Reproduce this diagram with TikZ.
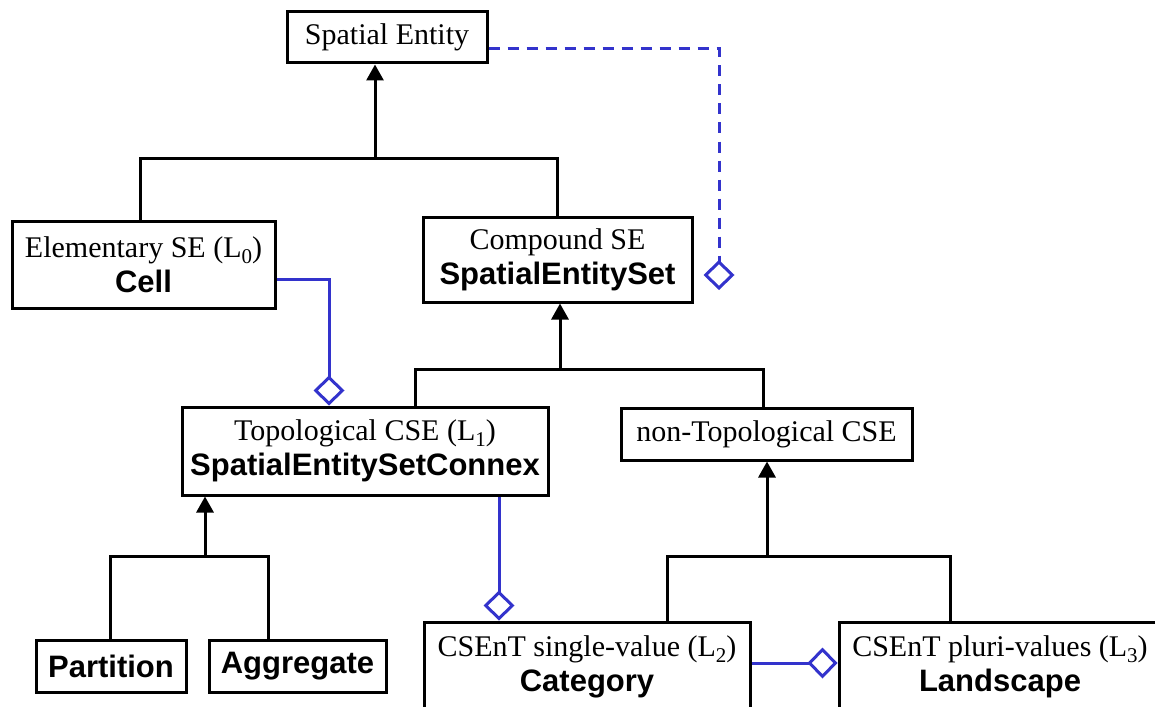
\documentclass[tikz,border=0pt]{standalone}
\usepackage{fontspec}
\setmainfont{Liberation Serif}
\newfontfamily\lsans{Liberation Sans}
\usetikzlibrary{arrows.meta}
\definecolor{aggblue}{RGB}{51,51,204}
\newcommand{\cls}[1]{{\lsans\bfseries\fontsize{15.5}{17.5}\selectfont #1}}
\newcommand{\lsub}[1]{\raisebox{-3pt}{\fontsize{10.5}{10.5}\selectfont #1}}
\begin{document}
\begin{tikzpicture}[x=0.5pt,y=-0.5pt,
  box/.style={draw,line width=1.5pt,inner sep=0pt,align=center,font=\fontsize{15}{17.5}\selectfont},
  gen/.style={line width=1.5pt},
  genarrow/.style={line width=1.5pt,-{Triangle[length=8pt,width=8.5pt]}},
  agg/.style={draw=aggblue,line width=1.5pt,-{Diamond[open,length=15pt,width=15.5pt]}},
  aggd/.style={agg,dash pattern=on 5.5pt off 4pt}]
\useasboundingbox (0,0) rectangle (1155,706);
\clip (0,0) rectangle (1155,706);
% classes
\node[box,minimum width=100pt,minimum height=25.5pt] (se) at (387,37.5) {Spatial Entity};
\node[box,minimum width=131.5pt,minimum height=43.5pt] (elem) at (143.5,264.5) {Elementary SE (L\lsub{0})\\\cls{Cell}};
\node[box,minimum width=134.5pt,minimum height=42.5pt] (comp) at (557.5,259.5) {Compound SE\\\cls{SpatialEntitySet}};
\node[box,minimum width=183pt,minimum height=44pt] (topo) at (365,451) {Topological CSE (L\lsub{1})\\\cls{SpatialEntitySetConnex}};
\node[box,minimum width=145.5pt,minimum height=26pt] (ntopo) at (766.5,434) {non-Topological CSE};
\node[box,minimum width=75pt,minimum height=26pt] (part) at (111,666) {\cls{Partition}};
\node[box,minimum width=88.5pt,minimum height=26pt] (aggr) at (297.5,666) {\cls{Aggregate}};
\node[box,minimum width=163pt,minimum height=45pt] (cat) at (587,667) {CSEnT single-value (L\lsub{2})\\\cls{Category}};
\node[box,minimum width=161pt,minimum height=45pt] (land) at (1000,667) {CSEnT pluri-values (L\lsub{3})\\\cls{Landscape}};
% generalisation trees
\coordinate (b1) at (375,158);
\draw[gen] (140,0 |- elem.north) |- (b1) -| (comp.north);
\draw[genarrow] (b1) -- (375,0 |- se.south);
\coordinate (b2) at (560,369);
\draw[gen] (415,0 |- topo.north) |- (b2) -| (763,0 |- ntopo.north);
\draw[genarrow] (b2) -- (560,0 |- comp.south);
\coordinate (b3) at (205,556);
\draw[gen] (110,0 |- part.north) |- (b3) -| (268,0 |- aggr.north);
\draw[genarrow] (b3) -- (205,0 |- topo.south);
\coordinate (b4) at (767,556);
\draw[gen] (667,0 |- cat.north) |- (b4) -| (950,0 |- land.north);
\draw[genarrow] (b4) -- (767,0 |- ntopo.south);
% aggregations
\coordinate (d1) at (719,290);
\draw[aggd] (se.east |- 0,49) -| (d1);
\draw[agg] (elem.east |- 0,279) -| (329,0 |- topo.north);
\draw[agg] (499,0 |- topo.south) -- (499,0 |- cat.north);
\draw[agg] (cat.east |- 0,663) -- (land.west |- 0,663);
\end{tikzpicture}
\end{document}
